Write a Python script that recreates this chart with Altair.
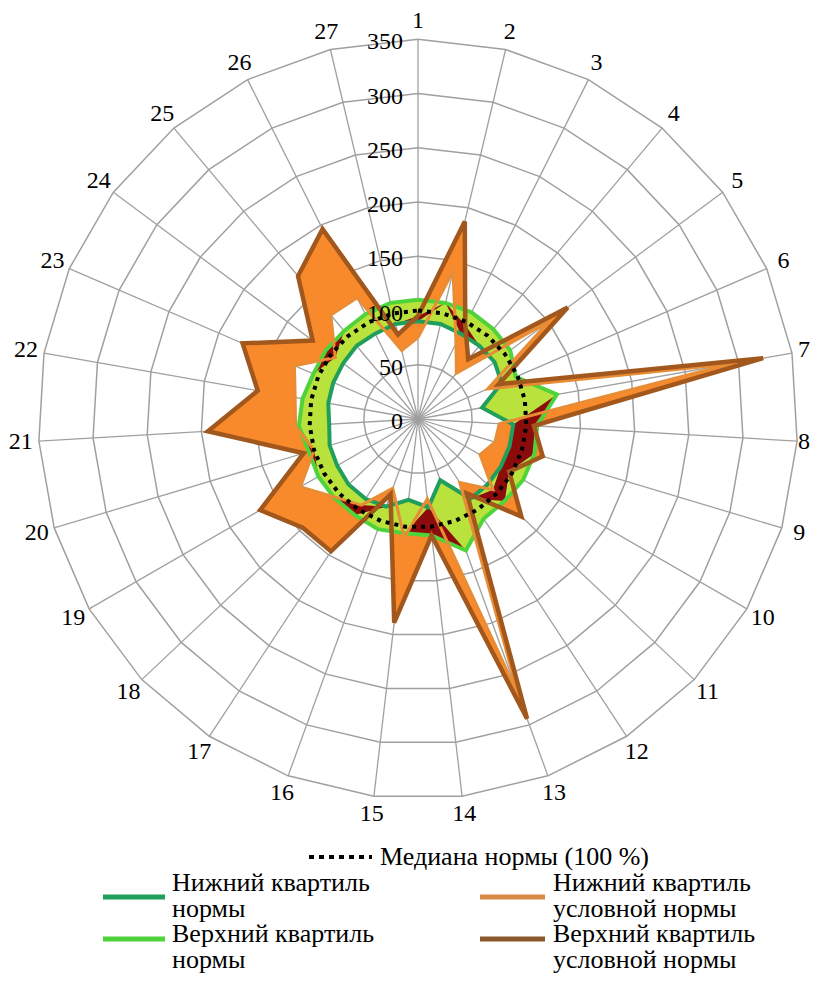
import altair as alt
import pandas as pd

# ---------------- data ----------------
categories = [str(i) for i in range(1, 28)]
tick_values = [0, 50, 100, 150, 200, 250, 300, 350]
median_norm = [100] * 27
lq_norm = [90, 90, 88, 88, 88, 84, 60, 88, 88, 88, 88, 88, 60, 82, 75, 86, 88, 88, 86, 85, 82, 84, 85, 86, 88, 88, 90]
uq_norm = [110, 110, 110, 108, 106, 98, 130, 110, 112, 112, 110, 110, 129, 108, 106, 108, 106, 106, 106, 105, 110, 108, 105, 106, 106, 108, 110]
lq_cond = [75, 140, 78, 55, 150, 70, 292, 75, 74, 66, 95, 70, 272, 74, 110, 68, 95, 105, 125, 100, 113, 115, 124, 95, 125, 125, 65]
uq_cond = [95, 187, 97, 72, 172, 81, 323, 107, 120, 97, 131, 82, 294, 108, 189, 74, 146, 146, 168, 110, 194, 150, 176, 121, 172, 196, 80]

legend_labels = [
    "Медиана нормы (100 %)",
    "Нижний квартиль\nнормы",
    "Верхний квартиль\nнормы",
    "Нижний квартиль\nусловной нормы",
    "Верхний квартиль\nусловной нормы",
]

# ---------------- layout ----------------
N = len(categories)
S = 1.085          # px per unit
W, H = 806, 966
CX, CY = 410, 411  # centre in plot coords
xdom = [-CX / S, (W - CX) / S]
ydom = [-(H - CY) / S, CY / S]
FONT = "Liberation Serif"

X = alt.X("x:Q", scale=alt.Scale(domain=xdom, nice=False, zero=False), axis=None)
Y = alt.Y("y:Q", scale=alt.Scale(domain=ydom, nice=False, zero=False), axis=None)


def polar(ch):
    return ch.transform_calculate(
        x=f"datum.r * sin(2 * PI * datum.k / {N})",
        y=f"datum.r * cos(2 * PI * datum.k / {N})",
    )


def ring_df(values):
    return pd.DataFrame([{"k": k, "r": values[k % N], "o": k} for k in range(N + 1)])


def band_df(inner, outer):
    rows = [{"k": k, "r": outer[k % N], "o": k} for k in range(N + 1)]
    rows += [{"k": k, "r": inner[k % N], "o": 2 * N + 1 - k} for k in range(N, -1, -1)]
    return pd.DataFrame(rows)


# overlap of the two bands (collapsed onto the norm band edge where empty)
ov_in, ov_out = [], []
for a, b, c, d in zip(lq_norm, lq_cond, uq_norm, uq_cond):
    lo, hi = max(a, b), min(c, d)
    if hi < lo:
        v = c if b > c else a
        lo = hi = v
    ov_in.append(lo)
    ov_out.append(hi)

layers = []

# grid rings
grid_rows = []
for t in tick_values[1:]:
    for k in range(N + 1):
        grid_rows.append({"ring": t, "k": k, "r": t, "o": k})
layers.append(
    polar(alt.Chart(pd.DataFrame(grid_rows)))
    .mark_line(color="#a0a0a0", strokeWidth=1.5)
    .encode(X, Y, detail="ring:N", order="o:Q")
)
# spokes
spoke_rows = []
for k in range(N):
    spoke_rows.append({"k": k, "r": 0, "o": 0})
    spoke_rows.append({"k": k, "r": tick_values[-1], "o": 1})
layers.append(
    polar(alt.Chart(pd.DataFrame(spoke_rows)))
    .mark_line(color="#a0a0a0", strokeWidth=1.3)
    .encode(X, Y, detail="k:N", order="o:Q")
)

# filled bands
for inner, outer, col in [
    (lq_cond, uq_cond, "#f88a2c"),
    (lq_norm, uq_norm, "#b9e23c"),
    (ov_in, ov_out, "#8c0c0c"),
]:
    layers.append(
        polar(alt.Chart(band_df(inner, outer)))
        .mark_line(fill=col, stroke="transparent", strokeWidth=0)
        .encode(X, Y, order="o:Q")
    )

# series lines
for vals, col, w in [
    (lq_norm, "#1f9e5c", 4),
    (uq_norm, "#4fd33a", 4),
    (lq_cond, "#e88d36", 3),
    (uq_cond, "#a2581c", 4.5),
]:
    layers.append(
        polar(alt.Chart(ring_df(vals)))
        .mark_line(color=col, strokeWidth=w, strokeJoin="miter")
        .encode(X, Y, order="o:Q")
    )
layers.append(
    polar(alt.Chart(ring_df(median_norm)))
    .mark_line(color="black", strokeWidth=4, strokeDash=[4, 5])
    .encode(X, Y, order="o:Q")
)

# category labels (kept inside the page on the right)
cat_df = pd.DataFrame({"k": list(range(N)), "label": categories})
xmax_lab = (W - CX - 10) / S
layers.append(
    alt.Chart(cat_df)
    .transform_calculate(
        x=f"min({398 / S} * sin(2 * PI * datum.k / {N}), {xmax_lab})",
        y=f"{398 / S} * cos(2 * PI * datum.k / {N})",
    )
    .mark_text(font=FONT, fontSize=24, color="black", baseline="middle", align="center")
    .encode(X, Y, text="label:N")
)

# tick labels
tick_df = pd.DataFrame({"t": tick_values})
layers.append(
    alt.Chart(tick_df)
    .transform_calculate(x=f"{-15 / S}", y=f"datum.t - {3 / S}", lab="datum.t + ''")
    .mark_text(font=FONT, fontSize=24, color="black", baseline="middle", align="right")
    .encode(X, Y, text="lab:N")
)

# legend (manual)
one = pd.DataFrame({"a": [0]})
def leg_line(x1, x2, y, col, w, dash=None):
    kw = dict(color=col, strokeWidth=w)
    if dash:
        kw["strokeDash"] = dash
    return alt.Chart(one).mark_rule(**kw).encode(
        x=alt.value(x1), x2=alt.value(x2), y=alt.value(y)
    )

def leg_text(x, y, txt, baseline="alphabetic"):
    return alt.Chart(one).mark_text(
        text=txt, font=FONT, fontSize=26, align="left", baseline=baseline,
        color="black", lineBreak="\n", lineHeight=26,
    ).encode(x=alt.value(x), y=alt.value(y))

layers += [
    leg_line(301, 364, 849, "black", 4, [5, 5]),
    leg_text(372, 849, legend_labels[0], "middle"),
    leg_line(95, 157, 889, "#1f9e5c", 5),
    leg_text(164, 883, legend_labels[1]),
    leg_line(95, 157, 931, "#4fd33a", 5),
    leg_text(164, 934, legend_labels[2]),
    leg_line(472, 537, 889, "#d98a45", 5),
    leg_text(545, 883, legend_labels[3]),
    leg_line(472, 537, 931, "#8a5a2c", 5),
    leg_text(545, 934, legend_labels[4]),
]

chart = (
    alt.layer(*layers)
    .properties(width=W, height=H, padding=0, autosize="none")
    .configure_view(stroke=None)
)
chart.save("out.html", embed_options={"renderer": "svg", "actions": False})
